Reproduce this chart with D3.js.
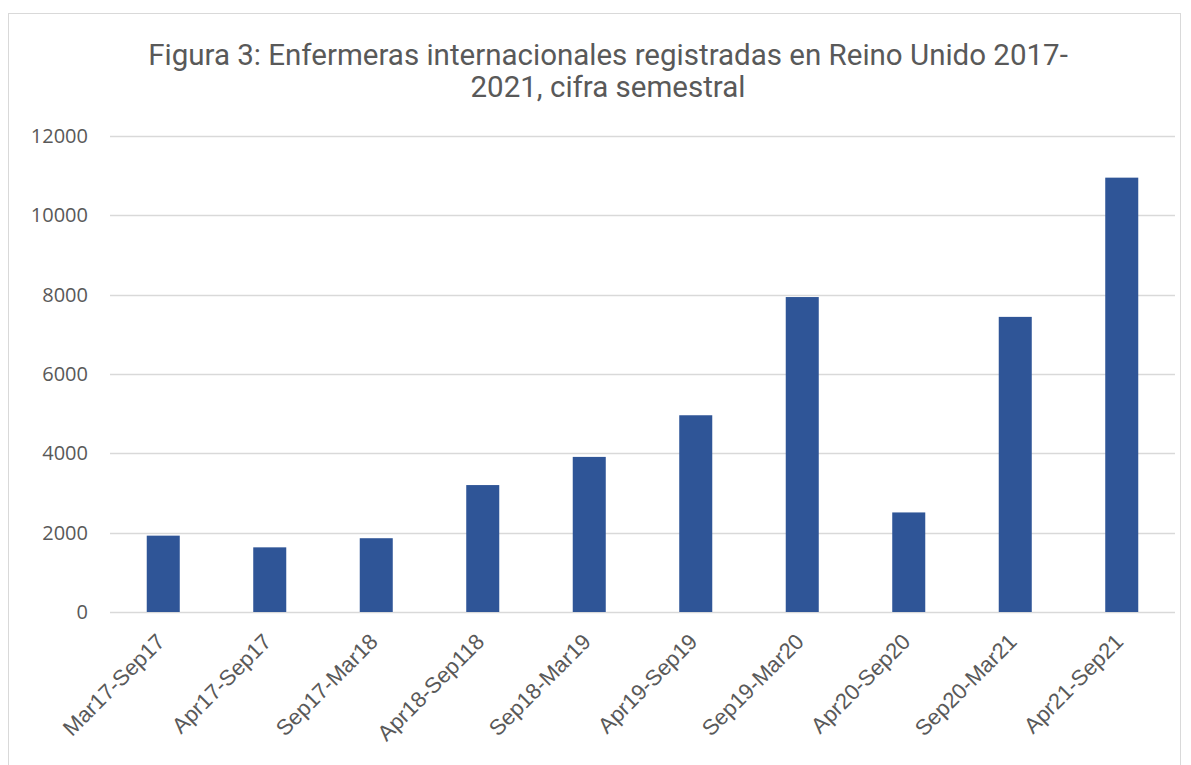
<!DOCTYPE html>
<html>
<head>
<meta charset="utf-8">
<script src="https://cdn.jsdelivr.net/npm/d3@7"></script>
<style>
  body { margin: 0; background: #fff; }
  text { fill: #595959; }
</style>
</head>
<body>
<script>
// data
var periods = ["Mar17-Sep17", "Apr17-Sep17", "Sep17-Mar18", "Apr18-Sep118", "Sep18-Mar19",
    "Apr19-Sep19", "Sep19-Mar20", "Apr20-Sep20", "Sep20-Mar21", "Apr21-Sep21"];
var nurses = [1925, 1630, 1860, 3200, 3910, 4960, 7940, 2510, 7440, 10950];
var yTicks = [0, 2000, 4000, 6000, 8000, 10000, 12000];
var titleLines = ["Figura 3: Enfermeras internacionales registradas en Reino Unido 2017-",
    "2021, cifra semestral"];

var W = 1191, H = 765;
var margin = { top: 136, right: 16, bottom: 153, left: 110 }
    , width = W - margin.left - margin.right
    , height = H - margin.top - margin.bottom;

var svg = d3.select("body").append("svg")
    .attr("width", W)
    .attr("height", H);

// chart area border
svg.append("rect")
    .attr("x", 8.5).attr("y", 13.5)
    .attr("width", 1172).attr("height", 780)
    .attr("fill", "none")
    .attr("stroke", "#d9d9d9");

// title
svg.append("text")
    .attr("x", 608)
    .attr("y", 65)
    .attr("text-anchor", "middle")
    .style("font-family", "Roboto")
    .style("font-size", "29.5px")
    .selectAll("tspan")
    .data(titleLines)
    .enter().append("tspan")
    .attr("x", 608)
    .attr("dy", function (d, i) { return i ? 32 : 0; })
    .text(function (d) { return d; });

var g = svg.append("g")
    .attr("transform", "translate(" + margin.left + "," + margin.top + ")");

var x = d3.scaleBand()
    .domain(periods)
    .range([0, width])
    .paddingInner(0.69)
    .paddingOuter(0.345);

var y = d3.scaleLinear()
    .domain([0, 12000])
    .range([height, 0]);

// gridlines
g.append("g")
    .selectAll("line")
    .data(yTicks)
    .enter().append("line")
    .attr("x1", 0).attr("x2", width)
    .attr("y1", function (d) { return Math.round(y(d)) + 0.5; })
    .attr("y2", function (d) { return Math.round(y(d)) + 0.5; })
    .attr("stroke", "#d9d9d9")
    .attr("stroke-width", 1.5);

// y axis labels
var yAxis = g.append("g")
    .call(d3.axisLeft(y).tickValues(yTicks).tickSize(0).tickPadding(22).tickFormat(d3.format("d")));
yAxis.select(".domain").remove();
yAxis.selectAll("text")
    .style("font-family", "'Open Sans'")
    .style("font-size", "20px")
    .attr("fill", "#595959");

// bars
g.selectAll(".bar")
    .data(nurses)
    .enter().append("rect")
    .attr("class", "bar")
    .attr("x", function (d, i) { return x(periods[i]); })
    .attr("width", x.bandwidth())
    .attr("y", function (d) { return y(d); })
    .attr("height", function (d) { return height - y(d); })
    .attr("fill", "#2f5597");

// x axis labels, rotated
var xAxis = g.append("g")
    .attr("transform", "translate(0," + height + ")")
    .call(d3.axisBottom(x).tickSize(0).tickPadding(0));
xAxis.select(".domain").remove();
xAxis.selectAll("text")
    .style("font-family", "'Liberation Sans', Arial, sans-serif")
    .style("font-size", "22px")
    .attr("fill", "#595959")
    .attr("text-anchor", "end")
    .attr("y", 0)
    .attr("dy", null)
    .attr("transform", "translate(3,31) rotate(-45)");
</script>
</body>
</html>
